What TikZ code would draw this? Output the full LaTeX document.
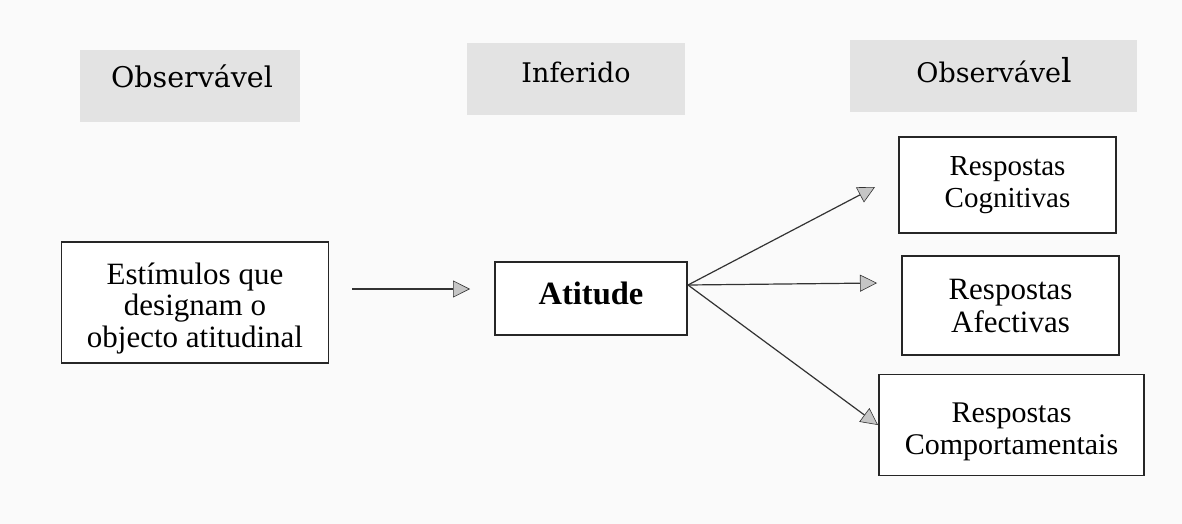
\documentclass[tikz,border=0pt]{standalone}
\usepackage{fontspec}
\setmainfont{Liberation Serif}
\newfontfamily\hdrfont{DejaVu Serif}
\usetikzlibrary{arrows.meta}
\tikzset{
  hdrbox/.style={fill=gray!22, draw=none, inner sep=0pt},
  hdrtxt/.style={anchor=base, inner sep=0pt, font=\hdrfont\fontsize{27}{27}\selectfont},
  box/.style={draw=black!85, line width=1.6pt, fill=white, inner sep=0pt},
  boxtxt/.style={inner sep=0pt, align=center},
  arr/.style={draw=black!80, line width=1.2pt,
    -{Triangle[length=17pt,width=17pt,fill=gray!45,line width=0.6pt]}}
}
\begin{document}
\begin{tikzpicture}[x=1pt,y=-1pt]
\useasboundingbox (0,0) rectangle (1182,524);
\fill[gray!4] (0,0) rectangle (1182,524);
% headers
\node[hdrbox, minimum width=220pt, minimum height=72pt] (h1) at (190,86) {};
\node[hdrtxt, font=\hdrfont\fontsize{28.5}{28.5}\selectfont] (h1t) at (192,88) {Observável};
\node[hdrbox, minimum width=218pt, minimum height=72pt] (h2) at (576,79) {};
\node[hdrtxt] (h2t) at (576,83) {Inferido};
\node[hdrbox, minimum width=287pt, minimum height=72pt] (h3) at (993,76) {};
\node[hdrtxt] (h3t) at (994,83) {Observáve{\fontsize{33}{33}\selectfont l}};
% boxes
\node[box, minimum width=267pt, minimum height=121pt] (est) at (195,302.5) {};
\node[boxtxt, font=\fontsize{31}{31.5}\selectfont] (estt) at ([yshift=-6pt]est.center)
      {Estímulos que\\designam o\\objecto atitudinal};
\node[box, minimum width=192pt, minimum height=73pt] (att) at (591,298.5) {};
\node[boxtxt, font=\bfseries\fontsize{32.5}{32.5}\selectfont] (attt) at ([yshift=5pt]att.center) {Atitude};
\node[box, minimum width=217pt, minimum height=96pt] (cog) at (1007.5,185) {};
\node[boxtxt, font=\fontsize{29}{32}\selectfont] (cogt) at (cog.center) {Respostas\\Cognitivas};
\node[box, minimum width=217pt, minimum height=99pt] (afe) at (1010.5,305.5) {};
\node[boxtxt, font=\fontsize{31}{33}\selectfont] (afet) at (afe.center) {Respostas\\Afectivas};
\node[box, minimum width=265pt, minimum height=101pt] (com) at (1011.5,425) {};
\node[boxtxt, font=\fontsize{30}{32}\selectfont] (comt) at ([yshift=-7pt]com.center) {Respostas\\Comportamentais};
% connector ends
\coordinate (a1s) at (352,289);
\coordinate (a1e) at (470,289);
\coordinate (src) at (688,285);
\coordinate (t1) at (875,187);
\coordinate (t2) at (877,283);
\coordinate (t3) at (878,425);
\draw[arr] (a1s) -- (a1e);
\draw[arr] (src) -- (t1);
\draw[arr] (src) -- (t2);
\draw[arr] (src) -- (t3);
\end{tikzpicture}
\end{document}
